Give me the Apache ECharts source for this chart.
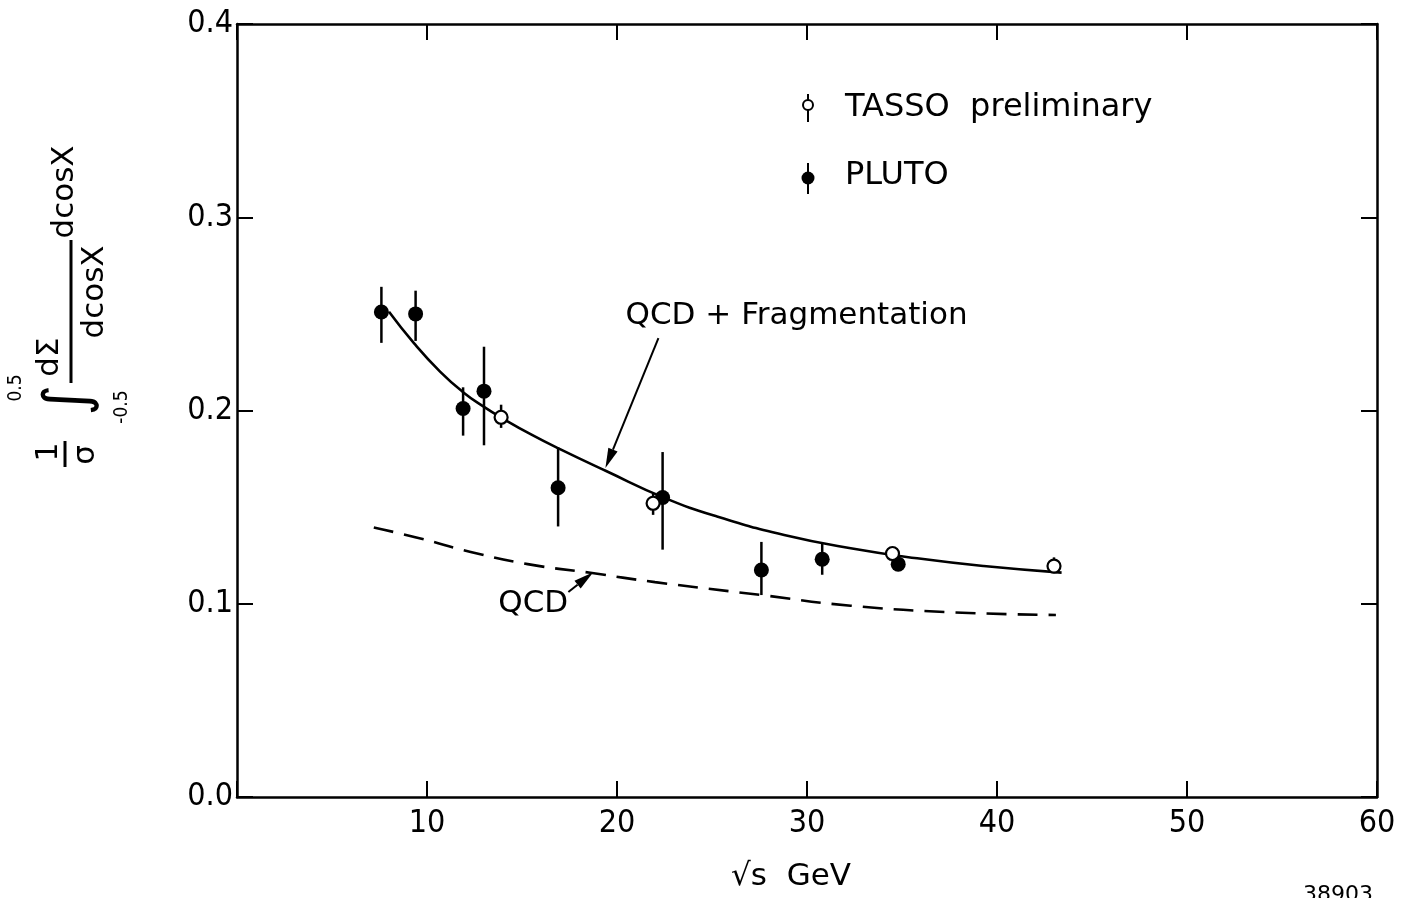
<!DOCTYPE html>
<html><head><meta charset="utf-8">
<script src="https://cdn.jsdelivr.net/npm/echarts@6/dist/echarts.min.js"></script>
<style>html,body{margin:0;padding:0;background:#fff}#c{width:1403px;height:898px}</style>
</head><body><div id="c"></div>
<script>
// ---- data ----
const xTicks = [0, 10, 20, 30, 40, 50, 60];
const yTicks = [0.0, 0.1, 0.2, 0.3, 0.4];
const plutoX  = [7.6, 9.4, 11.9, 13.0, 16.9, 22.4, 27.6, 30.8, 34.8];
const plutoY  = [0.251, 0.250, 0.201, 0.210, 0.160, 0.155, 0.1175, 0.123, 0.1205];
const plutoLo = [0.235, 0.236, 0.187, 0.182, 0.140, 0.128, 0.1045, 0.115, 0.118];
const plutoHi = [0.264, 0.262, 0.212, 0.233, 0.181, 0.1785, 0.132, 0.1315, 0.123];
const tassoX  = [13.9, 21.9, 34.5, 43.0];
const tassoY  = [0.1965, 0.152, 0.126, 0.1195];
const tassoLo = [0.191, 0.146, 0.123, 0.116];
const tassoHi = [0.203, 0.157, 0.129, 0.124];
const fitX = [8.0, 9.3, 10.7, 11.9, 13.0, 14.0, 15.5, 17.0, 19.4, 22.5, 25.3, 28.8, 32.3, 35.8, 39.3, 43.4];
const fitY = [0.2511, 0.2350, 0.2200, 0.2095, 0.2019, 0.1958, 0.1875, 0.1800, 0.1688, 0.1548, 0.1450, 0.1356, 0.1287, 0.1235, 0.1195, 0.1161];
const qcdX = [7.2, 9.6, 12.3, 15.3, 18.6, 22.0, 27.6, 32.3, 37.6, 43.1];
const qcdY = [0.1395, 0.1339, 0.1268, 0.1205, 0.1160, 0.1112, 0.1045, 0.0990, 0.0956, 0.0942];

const FONT = "'Liberation Sans Narrow','DejaVu Sans Condensed','Liberation Sans',sans-serif";
const TFONT = "'DejaVu Sans','Liberation Sans',sans-serif";

const chart = echarts.init(document.getElementById('c'), null, {renderer: 'canvas'});

function errBar(color) {
  return function (params, api) {
    const x = api.value(0), lo = api.value(1), hi = api.value(2);
    const p1 = api.coord([x, lo]), p2 = api.coord([x, hi]);
    return {type: 'line', shape: {x1: p1[0], y1: p1[1], x2: p2[0], y2: p2[1]},
            style: {stroke: color, lineWidth: 2.5}};
  };
}

const axisCommon = {
  axisLine: {show: true, onZero: false, lineStyle: {color: '#000', width: 2.5}},
  axisTick: {show: true, inside: true, length: 16, lineStyle: {color: '#000', width: 2}},
  splitLine: {show: false}
};

const option = {
  backgroundColor: '#fff',
  animation: false,
  grid: {left: 237, right: 26, top: 24, bottom: 101, containLabel: false},
  xAxis: [
    Object.assign({type: 'value', min: 0, max: 60, interval: 10, position: 'bottom',
      axisLabel: {color: '#000', fontSize: 32, fontFamily: FONT, margin: 11,
        formatter: v => (v === 0 ? '' : String(v))},
      name: '√s  GeV', nameLocation: 'middle', nameGap: 64,
      nameTextStyle: {color: '#000', fontSize: 31, fontFamily: TFONT, padding: [0, 32, 0, 0]}}, axisCommon),
    Object.assign({type: 'value', min: 0, max: 60, interval: 10, position: 'top',
      axisLabel: {show: false}}, axisCommon)
  ],
  yAxis: [
    Object.assign({type: 'value', min: 0, max: 0.4, interval: 0.1, position: 'left',
      axisLabel: {color: '#000', fontSize: 32, fontFamily: FONT, margin: 4,
        formatter: v => v.toFixed(1)}}, axisCommon),
    Object.assign({type: 'value', min: 0, max: 0.4, interval: 0.1, position: 'right',
      axisLabel: {show: false}}, axisCommon)
  ],
  series: [
    {type: 'line', name: 'QCD + Fragmentation', smooth: 0.5, showSymbol: false,
      data: fitX.map((x, i) => [x, fitY[i]]),
      lineStyle: {color: '#000', width: 2.6}, z: 2},
    {type: 'line', name: 'QCD', smooth: 0.5, showSymbol: false,
      data: qcdX.map((x, i) => [x, qcdY[i]]),
      lineStyle: {color: '#000', width: 2.6, type: [20, 11]}, z: 2},
    {type: 'custom', name: 'PLUTO err', renderItem: errBar('#000'),
      data: plutoX.map((x, i) => [x, plutoLo[i], plutoHi[i]]),
      encode: {x: 0, y: [1, 2]}, z: 3},
    {type: 'custom', name: 'TASSO err', renderItem: errBar('#000'),
      data: tassoX.map((x, i) => [x, tassoLo[i], tassoHi[i]]),
      encode: {x: 0, y: [1, 2]}, z: 3},
    {type: 'scatter', name: 'PLUTO', symbol: 'circle', symbolSize: 15,
      data: plutoX.map((x, i) => [x, plutoY[i]]),
      itemStyle: {color: '#000', opacity: 1}, z: 4},
    {type: 'scatter', name: 'TASSO preliminary', symbol: 'circle', symbolSize: 13,
      data: tassoX.map((x, i) => [x, tassoY[i]]),
      itemStyle: {color: '#fff', borderColor: '#000', borderWidth: 2.2, opacity: 1}, z: 5}
  ]
};
chart.setOption(option);

// ---- annotations (placed in data coordinates) ----
const px = (x, y) => chart.convertToPixel({xAxisIndex: 0, yAxisIndex: 0}, [x, y]);
function arrow(from, to) {
  const a = px(from[0], from[1]), b = px(to[0], to[1]);
  const dx = b[0] - a[0], dy = b[1] - a[1], L = Math.hypot(dx, dy);
  const ux = dx / L, uy = dy / L, hl = 20, hw = 5;
  const base = [b[0] - ux * hl, b[1] - uy * hl];
  return [
    {type: 'line', shape: {x1: a[0], y1: a[1], x2: base[0], y2: base[1]},
      style: {stroke: '#000', lineWidth: 2}, z: 10},
    {type: 'polygon', shape: {points: [b, [base[0] - uy * hw, base[1] + ux * hw],
      [base[0] + uy * hw, base[1] - ux * hw]]}, style: {fill: '#000'}, z: 10}
  ];
}
const t1 = px(20.45, 0.2489), t2 = px(13.75, 0.0999);
const rot = (x, y, text, size, fam) => ({type: 'text', x: x, y: y, rotation: Math.PI / 2,
  style: {text: text, fill: '#000', font: size + 'px ' + (fam || TFONT), textAlign: 'center', textVerticalAlign: 'middle'}});
const graphics = [
  ...arrow([22.18, 0.2375], [19.39, 0.1702]),
  ...arrow([17.44, 0.1061], [18.75, 0.1163]),
  {type: 'text', x: t1[0], y: t1[1], style: {text: 'QCD + Fragmentation', fill: '#000',
    font: '31px ' + TFONT, textAlign: 'left', textVerticalAlign: 'middle'}, z: 10},
  {type: 'text', x: t2[0], y: t2[1], style: {text: 'QCD', fill: '#000',
    font: '31px ' + TFONT, textAlign: 'left', textVerticalAlign: 'middle'}, z: 10},
  // legend
  {type: 'line', shape: {x1: 808, y1: 94, x2: 808, y2: 122}, style: {stroke: '#000', lineWidth: 2}, z: 10},
  {type: 'circle', shape: {cx: 808, cy: 105, r: 5}, style: {fill: '#fff', stroke: '#000', lineWidth: 2}, z: 11},
  {type: 'text', x: 845, y: 108, style: {text: 'TASSO  preliminary', fill: '#000',
    font: '32px ' + TFONT, textAlign: 'left', textVerticalAlign: 'middle'}, z: 10},
  {type: 'line', shape: {x1: 808, y1: 163, x2: 808, y2: 194}, style: {stroke: '#000', lineWidth: 2}, z: 10},
  {type: 'circle', shape: {cx: 808, cy: 178, r: 6.5}, style: {fill: '#000'}, z: 11},
  {type: 'text', x: 845, y: 176, style: {text: 'PLUTO', fill: '#000',
    font: '32px ' + TFONT, textAlign: 'left', textVerticalAlign: 'middle'}, z: 10},
  // y-axis title (rotated formula)
  rot(49, 452, '1', 30),
  {type: 'line', shape: {x1: 65, y1: 441, x2: 65, y2: 467}, style: {stroke: '#000', lineWidth: 3}},
  rot(86, 455, 'σ', 31),
  rot(70, 400, '∫', 60),
  rot(16, 388, '0.5', 19, FONT),
  rot(122, 407, '-0.5', 19, FONT),
  rot(50, 357, 'dΣ', 31),
  {type: 'line', shape: {x1: 71, y1: 240, x2: 71, y2: 383}, style: {stroke: '#000', lineWidth: 3}},
  rot(95, 292, 'dcosX', 31),
  rot(65, 192, 'dcosX', 31),
  // figure number (partially cut at the bottom edge)
  {type: 'text', x: 1338, y: 884, style: {text: '38903', fill: '#000',
    font: '22px ' + TFONT, textAlign: 'center', textVerticalAlign: 'top'}}
];
chart.setOption({graphic: graphics});
</script></body></html>
